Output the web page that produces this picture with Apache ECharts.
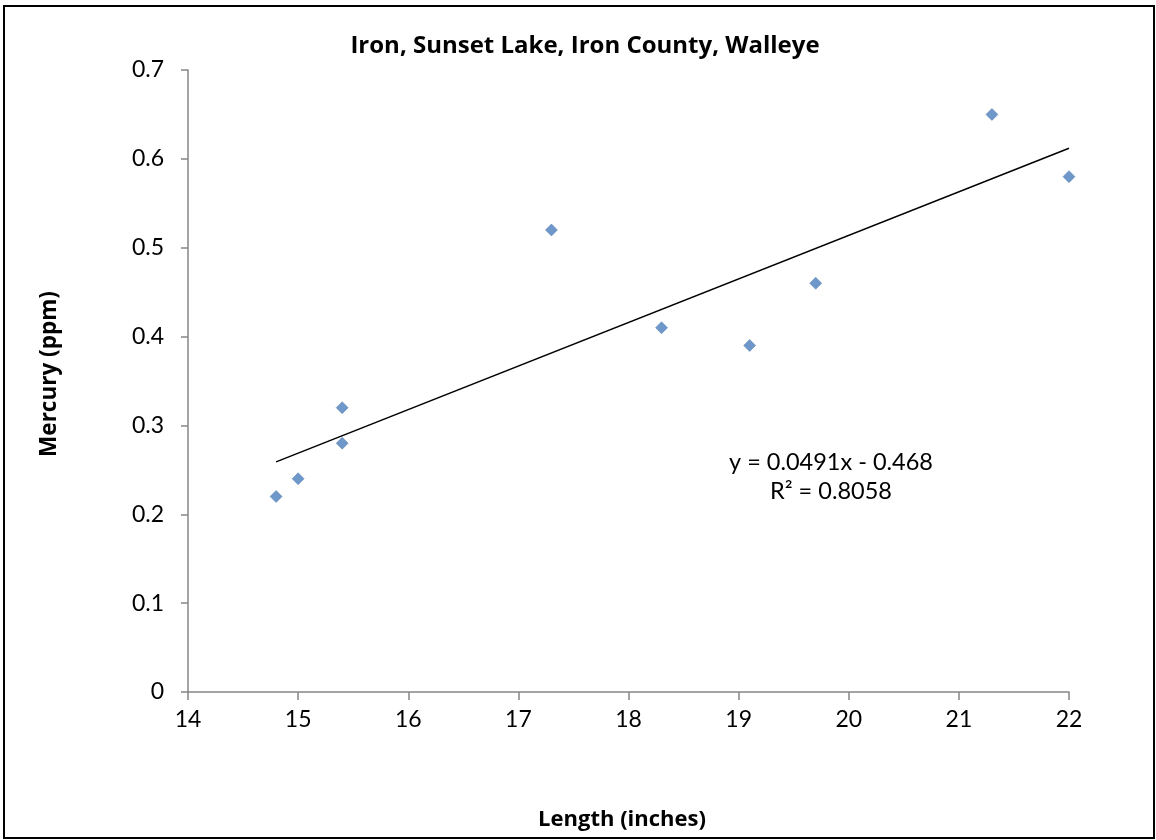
<!DOCTYPE html>
<html>
<head>
<meta charset="utf-8">
<script src="https://cdn.jsdelivr.net/npm/echarts@6/dist/echarts.min.js"></script>
<style>
html,body{margin:0;padding:0;background:#fff;}
#c{width:1156px;height:840px;}
</style>
</head>
<body>
<div id="c"></div>
<script>
const lengths = [14.8, 15.0, 15.4, 15.4, 17.3, 18.3, 19.1, 19.7, 21.3, 22.0];
const mercury = [0.22, 0.24, 0.32, 0.28, 0.52, 0.41, 0.39, 0.46, 0.65, 0.58];
const trendX = [14.8, 22.0];
const trendY = [0.259, 0.612];
const xTicks = [14, 15, 16, 17, 18, 19, 20, 21, 22];
const yTicks = [0, 0.1, 0.2, 0.3, 0.4, 0.5, 0.6, 0.7];
const titleText = 'Iron, Sunset Lake, Iron County, Walleye';
const eqText = 'y = 0.0491x - 0.468';
const r2Text = 'R² = 0.8058';

const FONT = "Lato, 'Open Sans', sans-serif";
const BFONT = "'Open Sans', 'Noto Sans', sans-serif";
const chart = echarts.init(document.getElementById('c'), null, {renderer: 'canvas'});
const axisColor = '#868686';
chart.setOption({
  animation: false,
  backgroundColor: '#fff',
  title: {
    text: titleText, left: 580, top: 29, textAlign: 'center',
    textStyle: {fontFamily: BFONT, fontWeight: 'bold', fontSize: 24, color: '#000'}
  },
  grid: {left: 188, right: 87, top: 70, bottom: 148},
  xAxis: {
    type: 'value', min: xTicks[0], max: xTicks[xTicks.length-1], interval: 1,
    name: 'Length (inches)', nameLocation: 'middle', nameGap: 117,
    nameTextStyle: {fontFamily: BFONT, fontWeight: 'bold', fontSize: 22, color: '#000', padding: [0, 13, 0, 0]},
    axisLine: {show: true, lineStyle: {color: axisColor, width: 1.5}},
    axisTick: {show: true, length: 8, inside: false, lineStyle: {color: axisColor, width: 1.5}},
    axisLabel: {fontFamily: FONT, fontSize: 23, color: '#000', margin: 16},
    splitLine: {show: false}
  },
  yAxis: {
    type: 'value', min: yTicks[0], max: yTicks[yTicks.length-1], interval: 0.1,
    name: 'Mercury (ppm)', nameLocation: 'middle', nameGap: 127,
    nameTextStyle: {fontFamily: BFONT, fontWeight: 'bold', fontSize: 22.5, color: '#000', padding: [0, 0, 0, 14]},
    axisLine: {show: true, lineStyle: {color: axisColor, width: 1.5}},
    axisTick: {show: true, length: 7, lineStyle: {color: axisColor, width: 1.5}},
    axisLabel: {fontFamily: FONT, fontSize: 23, color: '#000', margin: 24,
      formatter: v => (Math.round(v*10)/10).toString()},
    splitLine: {show: false}
  },
  series: [
    {
      type: 'line',
      data: trendX.map((x, i) => [x, trendY[i]]),
      symbol: 'none',
      lineStyle: {color: '#000', width: 1.5},
      z: 1
    },
    {
      type: 'scatter',
      data: lengths.map((x, i) => [x, mercury[i]]),
      symbol: 'diamond',
      symbolSize: 12,
      itemStyle: {color: '#4A7EBB', borderColor: '#3d6ca6', borderWidth: 0.5},
      z: 2
    }
  ],
  graphic: [
    {type: 'rect', shape: {x: 4, y: 6, width: 1150, height: 832},
     style: {fill: 'none', stroke: '#000', lineWidth: 2}},
    {type: 'text', x: 831, y: 450, style: {text: eqText, fontFamily: FONT, fontSize: 23.5, fill: '#000', align: 'center'}},
    {type: 'text', x: 831, y: 479, style: {text: r2Text, fontFamily: FONT, fontSize: 23.5, fill: '#000', align: 'center'}}
  ]
});
</script>
</body>
</html>
